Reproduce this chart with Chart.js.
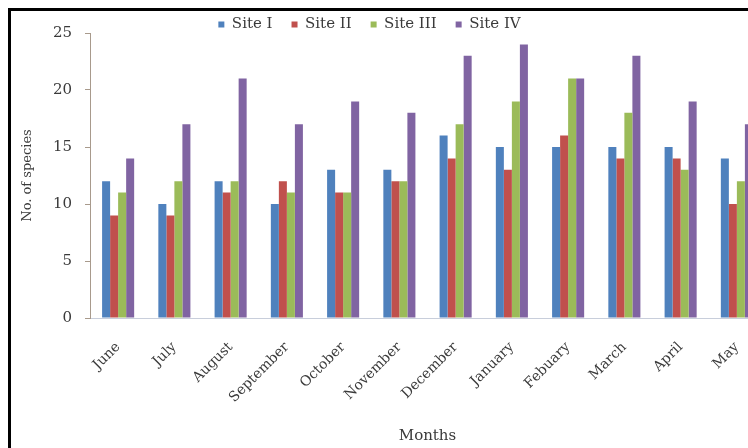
<!DOCTYPE html>
<html>
<head>
<meta charset="utf-8">
<script src="https://cdn.jsdelivr.net/npm/chart.js@4.4.1/dist/chart.umd.min.js"></script>
<style>
  html, body { margin: 0; padding: 0; background: #fff; overflow: hidden; width: 748px; height: 448px; }
  #wrap { position: absolute; left: 0; top: 0; width: 790px; height: 448px; }
  #frame { position: absolute; left: 8px; top: 8px; width: 760px; height: 460px;
           border-top: 3px solid #000; border-left: 3px solid #000; pointer-events: none; }
</style>
</head>
<body>
<div id="wrap"><canvas id="c" width="790" height="448"></canvas></div>
<div id="frame"></div>
<script>
// Monthly species counts at four sampling sites
const months = ['June', 'July', 'August', 'September', 'October', 'November',
                'December', 'January', 'Febuary', 'March', 'April', 'May'];
const siteI   = [12, 10, 12, 10, 13, 13, 16, 15, 15, 15, 15, 14];
const siteII  = [ 9,  9, 11, 12, 11, 12, 14, 13, 16, 14, 14, 10];
const siteIII = [11, 12, 12, 11, 11, 12, 17, 19, 21, 18, 13, 12];
const siteIV  = [14, 17, 21, 17, 19, 18, 23, 24, 21, 23, 19, 17];
const yTicks  = [0, 5, 10, 15, 20, 25];

const FONT = "'DejaVu Serif', 'Liberation Serif', serif";
const TEXT = '#3a3a3a';

// Fixed plot box: left edge, bottom edge and legend band height
const PLOT_LEFT = 90, PLOT_BOTTOM = 318, LEGEND_H = 33;

const layoutTweaks = {
  id: 'layoutTweaks',
  beforeInit(chart) {
    const lg = chart.legend;
    const fit = lg.fit;
    lg.fit = function () { fit.call(this); this.height = LEGEND_H; };
  },
  afterLayout(chart) {
    const lg = chart.legend;
    lg.left -= 13; lg.right -= 13;
    lg.top -= 2; lg.bottom -= 2;
  }
};

new Chart(document.getElementById('c'), {
  type: 'bar',
  data: {
    labels: months,
    datasets: [
      { label: 'Site I',   data: siteI,   backgroundColor: '#4F81BD' },
      { label: 'Site II',  data: siteII,  backgroundColor: '#C0504D' },
      { label: 'Site III', data: siteIII, backgroundColor: '#9BBB59' },
      { label: 'Site IV',  data: siteIV,  backgroundColor: '#8064A2' }
    ]
  },
  options: {
    responsive: false,
    animation: false,
    layout: { padding: { left: 0, right: 25, top: 0, bottom: 0 } },
    datasets: { bar: { categoryPercentage: 0.57, barPercentage: 1.0, borderWidth: 0 } },
    plugins: {
      tooltip: { enabled: false },
      legend: {
        position: 'top',
        labels: {
          font: { family: FONT, size: 15 },
          color: TEXT,
          boxWidth: 6, boxHeight: 6,
          padding: 19
        }
      }
    },
    scales: {
      x: {
        grid: { display: false },
        border: { display: true, color: '#c8cedb', width: 1 },
        ticks: {
          font: { family: FONT, size: 14 },
          color: TEXT,
          minRotation: 45, maxRotation: 45,
          padding: 13
        },
        title: {
          display: true, text: 'Months',
          font: { family: FONT, size: 15 }, color: TEXT,
          padding: { top: 0, bottom: 3 }
        },
        afterFit(scale) { scale.height = 448 - PLOT_BOTTOM; }
      },
      y: {
        min: 0, max: 25,
        afterBuildTicks(scale) { scale.ticks = yTicks.map(v => ({ value: v })); },
        grid: { display: true, drawOnChartArea: false, drawTicks: true, tickLength: 5, color: '#a89a8c' },
        border: { display: true, color: '#a89a8c', width: 1 },
        ticks: {
          font: { family: FONT, size: 15 },
          color: TEXT,
          padding: 13
        },
        title: {
          display: true, text: 'No. of species',
          font: { family: FONT, size: 13 }, color: TEXT,
          padding: { top: 20, bottom: 0 }
        },
        afterFit(scale) { scale.width = PLOT_LEFT; }
      }
    }
  },
  plugins: [layoutTweaks]
});
</script>
</body>
</html>
